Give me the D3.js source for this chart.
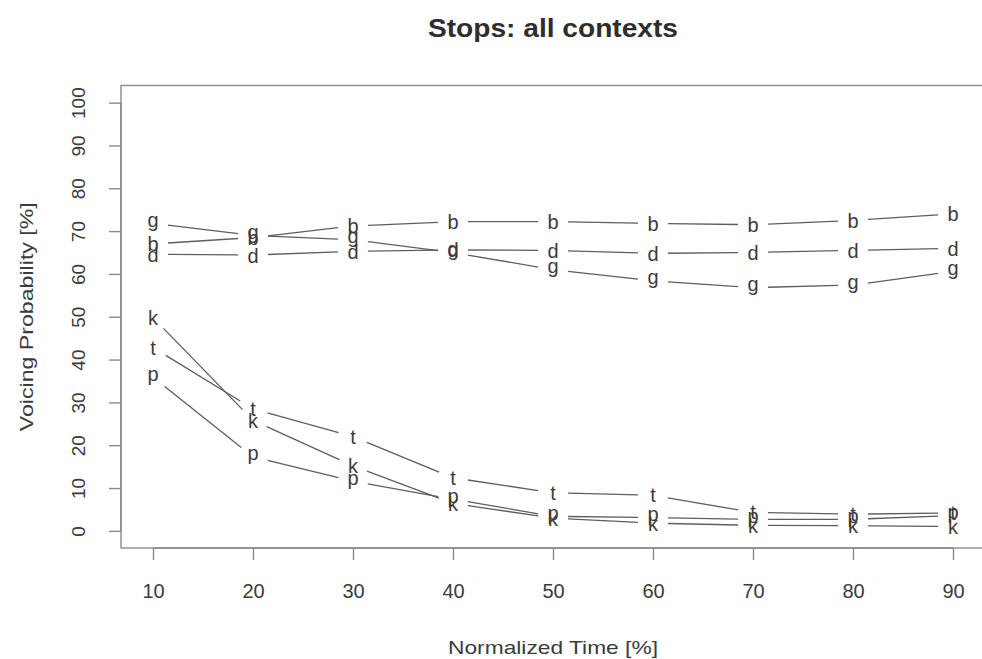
<!DOCTYPE html>
<html>
<head>
<meta charset="utf-8">
<script src="https://cdn.jsdelivr.net/npm/d3@7"></script>
<style>
  body { margin: 0; background: #ffffff; }
  svg { display: block; }
</style>
</head>
<body>
<svg id="chart" width="982" height="659"></svg>
<script>
// Normalized time points (%) and tick labels
const times = [10, 20, 30, 40, 50, 60, 70, 80, 90];
const xTicks = [10, 20, 30, 40, 50, 60, 70, 80, 90];
const yTicks = [0, 10, 20, 30, 40, 50, 60, 70, 80, 90, 100];

// Voicing probability (%) for each stop, all contexts
const labels = ["b", "d", "g", "p", "t", "k"];
const voicingB = [67.0, 68.5, 71.2, 72.2, 72.2, 71.8, 71.5, 72.5, 74.0];
const voicingD = [64.6, 64.4, 65.3, 65.6, 65.5, 64.8, 65.0, 65.5, 66.0];
const voicingG = [71.8, 69.0, 68.0, 65.0, 61.0, 58.4, 56.8, 57.4, 60.6];
const voicingP = [35.9, 17.3, 11.6, 7.4, 3.4, 3.1, 2.7, 2.7, 3.6];
const voicingT = [42.8, 28.5, 22.0, 12.4, 8.9, 8.3, 4.3, 3.9, 4.2];
const voicingK = [49.8, 25.8, 15.2, 6.4, 3.0, 1.8, 1.3, 1.2, 1.0];

const seriesValues = [voicingB, voicingD, voicingG, voicingP, voicingT, voicingK];
const series = labels.map((lab, i) => ({
  label: lab,
  points: times.map((t, j) => ({ t: t, v: seriesValues[i][j] }))
}));

const plot = { left: 121, right: 985, top: 85.5, bottom: 548 };
const FONT = "'Liberation Sans', Arial, Helvetica, sans-serif";
const INK = "#3c3c3c";
const LINE = "#5e5e5e";
const AXIS = "#8a8a8a";
const markSize = 20;
const gap = 15;   // radius of the blank space left around each letter

const svg = d3.select("#chart");

// R-style 4% padding on both axes
const x = d3.scaleLinear().domain([6.8, 93.2]).range([plot.left, plot.right]);
const y = d3.scaleLinear().domain([-4, 104]).range([plot.bottom, plot.top]);

// Plot frame
svg.append("rect")
  .attr("x", plot.left).attr("y", plot.top)
  .attr("width", plot.right - plot.left).attr("height", plot.bottom - plot.top)
  .attr("fill", "none").attr("stroke", AXIS).attr("stroke-width", 1.4);

// X axis
const xAxis = d3.axisBottom(x).tickValues(xTicks).tickSize(12).tickPadding(24)
  .tickFormat(d3.format("d"));
const gx = svg.append("g").attr("transform", `translate(0,${plot.bottom})`).call(xAxis);
gx.select(".domain").attr("d", `M${x(10)},0H${x(90)}`).attr("stroke", AXIS).attr("stroke-width", 1.4);
gx.selectAll(".tick line").attr("stroke", AXIS).attr("stroke-width", 1.4);
gx.selectAll(".tick text").attr("fill", INK).style("font-family", FONT).style("font-size", "20px");

// Y axis with labels rotated parallel to the axis
const yAxis = d3.axisLeft(y).tickValues(yTicks).tickSize(12).tickFormat(d3.format("d"));
const gy = svg.append("g").attr("transform", `translate(${plot.left},0)`).call(yAxis);
gy.select(".domain").attr("d", `M0,${y(0)}V${y(100)}`).attr("stroke", AXIS).attr("stroke-width", 1.4);
gy.selectAll(".tick line").attr("stroke", AXIS).attr("stroke-width", 1.4);
gy.selectAll(".tick text")
  .attr("x", null).attr("dy", null)
  .attr("transform", "translate(-36,0) rotate(-90)")
  .attr("text-anchor", "middle")
  .attr("fill", INK).style("font-family", FONT).style("font-size", "19px");

// Titles
svg.append("text")
  .attr("x", (plot.left + plot.right) / 2).attr("y", 37)
  .attr("text-anchor", "middle")
  .attr("textLength", 250).attr("lengthAdjust", "spacingAndGlyphs")
  .style("font-family", FONT).style("font-weight", "bold").style("font-size", "25px")
  .attr("fill", "#2e2e2e")
  .text("Stops: all contexts");

svg.append("text")
  .attr("x", (plot.left + plot.right) / 2).attr("y", 654)
  .attr("text-anchor", "middle")
  .attr("textLength", 210).attr("lengthAdjust", "spacingAndGlyphs")
  .style("font-family", FONT).style("font-size", "19px")
  .attr("fill", INK)
  .text("Normalized Time [%]");

svg.append("text")
  .attr("transform", `translate(33,${(plot.top + plot.bottom) / 2}) rotate(-90)`)
  .attr("text-anchor", "middle")
  .attr("textLength", 229).attr("lengthAdjust", "spacingAndGlyphs")
  .style("font-family", FONT).style("font-size", "19px")
  .attr("fill", INK)
  .text("Voicing Probability [%]");

// Ink metrics so each letter's glyph box is centred on its data point
const ctx = document.createElement("canvas").getContext("2d");
ctx.font = `${markSize}px ${FONT}`;
function baselineShift(ch) {
  const m = ctx.measureText(ch);
  return (m.actualBoundingBoxAscent - m.actualBoundingBoxDescent) / 2;
}

// Lines between points, trimmed around each letter (type "b")
const gLines = svg.append("g");
series.forEach(s => {
  for (let i = 0; i < s.points.length - 1; i++) {
    const x0 = x(s.points[i].t), y0 = y(s.points[i].v);
    const x1 = x(s.points[i + 1].t), y1 = y(s.points[i + 1].v);
    const dx = x1 - x0, dy = y1 - y0;
    const len = Math.hypot(dx, dy);
    if (len <= 2 * gap) continue;
    const f = gap / len;
    gLines.append("line")
      .attr("x1", x0 + f * dx).attr("y1", y0 + f * dy)
      .attr("x2", x1 - f * dx).attr("y2", y1 - f * dy)
      .attr("stroke", LINE).attr("stroke-width", 1.3);
  }
});

// Letter markers
const gMarks = svg.append("g");
series.forEach(s => {
  const shift = baselineShift(s.label);
  gMarks.selectAll(null).data(s.points).enter().append("text")
    .attr("x", d => x(d.t))
    .attr("y", d => y(d.v) + shift)
    .attr("text-anchor", "middle")
    .style("font-family", FONT).style("font-size", markSize + "px")
    .attr("fill", INK)
    .text(s.label);
});
</script>
</body>
</html>
